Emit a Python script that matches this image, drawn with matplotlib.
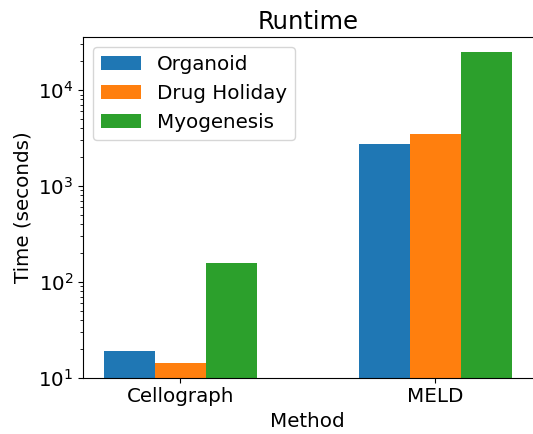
import matplotlib
matplotlib.use("Agg")
import matplotlib.pyplot as plt
import numpy as np

methods = ["Cellograph", "MELD"]
datasets = ["Organoid", "Drug Holiday", "Myogenesis"]
runtimes = {
    "Organoid": [18.8, 2760],
    "Drug Holiday": [14.3, 3500],
    "Myogenesis": [157, 24900],
}
colors = ["#1f77b4", "#ff7f0e", "#2ca02c"]

fig = plt.figure(figsize=(5.33, 4.34), dpi=100)
ax = fig.add_axes([0.156, 0.130, 0.843, 0.785])

x = np.arange(len(methods))
width = 0.2
for i, (name, color) in enumerate(zip(datasets, colors)):
    ax.bar(x + (i - 1) * width, runtimes[name], width, label=name, color=color)

ax.set_yscale("log")
ax.set_ylim(10, 3.6e4)
ax.set_xticks(x)
ax.set_xticklabels(methods)
ax.spines["right"].set_visible(False)
ax.tick_params(axis="both", labelsize=14.3)
ax.set_xlabel("Method", fontsize=14.3)
ax.set_ylabel("Time (seconds)", fontsize=14.3)
ax.set_title("Runtime", fontsize=17.5)
ax.legend(loc="upper left", fontsize=14.3)

fig.savefig("out.png", dpi=100)
